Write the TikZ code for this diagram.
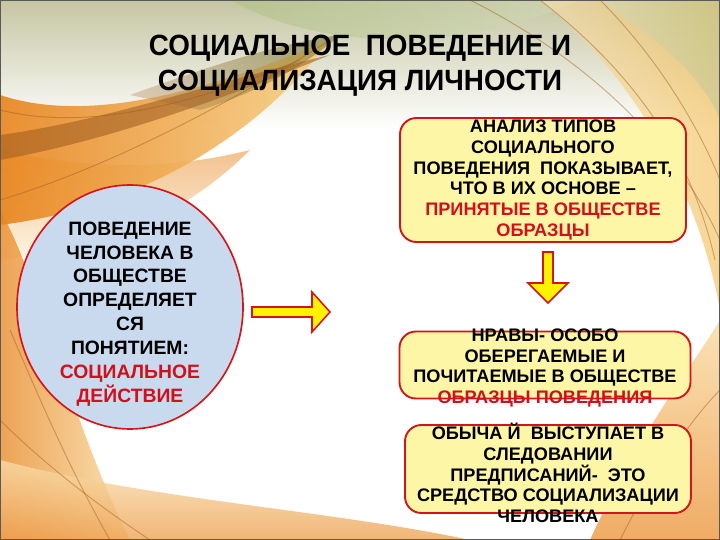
\documentclass[tikz,border=0pt]{standalone}
\usepackage{fontspec}
\setmainfont{Liberation Sans}
\newfontfamily\titlefont[FakeStretch=0.95]{Liberation Sans}
\usepackage{xcolor}
\usetikzlibrary{calc,shapes}
\definecolor{boxred}{HTML}{D41418}
\definecolor{txtred}{HTML}{D0101A}
\definecolor{boxyel}{HTML}{FDF6A6}
\definecolor{ovalblue}{HTML}{C9DAEF}
\definecolor{arrowyel}{HTML}{FFF200}
\definecolor{waveorange}{HTML}{E8841C}
\definecolor{wavegold}{HTML}{F2B43A}
\definecolor{wavebrown}{HTML}{9C5A1E}
\definecolor{wavegreen}{HTML}{8FA552}
\tikzset{
    card/.style={draw=boxred, line width=1.6pt, fill=boxyel, rounded corners=14pt, inner sep=0pt},
    cardtext/.style={align=center, font=\bfseries\fontsize{15.5}{17.6}\selectfont, inner sep=0pt},
    blockarrow/.style={draw=boxred, line width=1.3pt, fill=arrowyel, line join=miter},
    streak/.style={draw=wavebrown, line width=0.8pt, opacity=0.45}}

\begin{document}
\begin{tikzpicture}[x=0.03cm,y=-0.03cm]
\useasboundingbox (0,0) rectangle (720,540);

%background
\fill[white] (0,0) rectangle (720,540);
\shade[top color=olive!30!gray!45, bottom color=white] (0,0) rectangle (720,130);
\shade[left color=wavegreen!70, right color=wavegreen!40, opacity=0.6] (230,0) .. controls (330,55) and (470,50) .. (580,0) -- cycle;
\shade[top color=waveorange!70, bottom color=wavegold!20, opacity=0.7] (0,150) .. controls (90,170) and (170,170) .. (250,150) .. controls (170,230) and (80,250) .. (0,260) -- cycle;
\shade[left color=waveorange, right color=wavegold!60, opacity=0.9] (0,95) .. controls (90,125) and (210,90) .. (330,40) .. controls (270,120) and (160,205) .. (0,225) -- cycle;
\shade[left color=wavebrown!60, right color=olive!70!black, opacity=0.45] (130,95) .. controls (200,70) and (270,45) .. (340,35) .. controls (300,70) and (250,95) .. (200,110) -- cycle;
\fill[wavebrown, opacity=0.55] (0,135) .. controls (110,120) and (220,80) .. (330,55) .. controls (220,100) and (110,140) .. (0,160) -- cycle;
\shade[left color=waveorange, right color=wavegold!50, opacity=0.75] (0,210) .. controls (40,280) and (70,420) .. (130,540) -- (0,540) -- cycle;
\shade[top color=wavegold!40, bottom color=waveorange!80, opacity=0.75] (0,460) .. controls (150,500) and (330,510) .. (470,540) -- (0,540) -- cycle;
\shade[left color=wavegold!40, right color=wavegold!90, opacity=0.6] (540,0) .. controls (640,80) and (700,200) .. (720,310) -- (720,0) -- cycle;
\shade[left color=wavegreen!40, right color=wavegreen!60, opacity=0.5] (600,0) .. controls (660,40) and (705,80) .. (720,120) -- (720,0) -- cycle;
\shade[top color=wavegold!50, bottom color=waveorange!90, opacity=0.75] (590,540) .. controls (640,430) and (690,370) .. (720,320) -- (720,540) -- cycle;
\draw[streak] (470,0) .. controls (590,60) and (680,150) .. (720,240);
\draw[streak] (540,0) .. controls (630,70) and (690,150) .. (715,260);
\draw[streak] (600,0) .. controls (660,60) and (700,130) .. (720,180);
\draw[streak] (0,200) .. controls (100,170) and (220,110) .. (330,40);
\draw[streak] (0,110) .. controls (80,130) and (180,110) .. (300,60);
\draw[streak] (10,330) .. controls (40,400) and (70,470) .. (110,540);
\draw[streak] (0,420) .. controls (40,460) and (90,500) .. (150,540);
\draw[streak] (620,540) .. controls (660,460) and (700,410) .. (720,390);
\draw[gray!70!black, line width=1pt] (0,0) rectangle (720,540);

%title
\node[align=center, font=\titlefont\bfseries\fontsize{25}{30}\selectfont, inner sep=0pt] (title) at (360,66)
    {СОЦИАЛЬНОЕ\ \ ПОВЕДЕНИЕ И\\СОЦИАЛИЗАЦИЯ ЛИЧНОСТИ};

%oval
\node[ellipse, draw=boxred, line width=1.4pt, fill=ovalblue, inner sep=0pt,
      minimum width=6.78cm, minimum height=7.32cm] (oval) at (130,307) {};
\node[align=center, font=\bfseries\fontsize{16.5}{20.4}\selectfont, inner sep=0pt] (ovaltext) at (130,314)
    {ПОВЕДЕНИЕ\\ЧЕЛОВЕКА В\\ОБЩЕСТВЕ\\ОПРЕДЕЛЯЕТ\\СЯ\\ПОНЯТИЕМ:\\
     \textcolor{txtred}{СОЦИАЛЬНОЕ}\\\textcolor{txtred}{ДЕЙСТВИЕ}};

%boxes
\node[card, minimum width=8.58cm, minimum height=3.72cm] (analysis) at (543,180) {};
\node[cardtext] (analysistext) at (543,180)
    {АНАЛИЗ ТИПОВ\\СОЦИАЛЬНОГО\\ПОВЕДЕНИЯ\ \ ПОКАЗЫВАЕТ,\\ЧТО В ИХ ОСНОВЕ --\\
     \textcolor{txtred}{ПРИНЯТЫЕ В ОБЩЕСТВЕ}\\\textcolor{txtred}{ОБРАЗЦЫ}};
\node[card, minimum width=8.73cm, minimum height=2.01cm] (mores) at (545,365) {};
\node[cardtext] (morestext) at (545,368)
    {НРАВЫ- ОСОБО\\ОБЕРЕГАЕМЫЕ И\\ПОЧИТАЕМЫЕ В ОБЩЕСТВЕ\\\textcolor{txtred}{ОБРАЗЦЫ ПОВЕДЕНИЯ}};
\node[card, minimum width=8.58cm, minimum height=2.64cm] (custom) at (548,469) {};
\node[cardtext] (customtext) at (548,473)
    {ОБЫЧА Й\ \ ВЫСТУПАЕТ В\\СЛЕДОВАНИИ\\ПРЕДПИСАНИЙ-\ \ ЭТО\\СРЕДСТВО СОЦИАЛИЗАЦИИ\\ЧЕЛОВЕКА};

%arrows
\coordinate (ra) at (252,312);
\coordinate (da) at (548,252);
\draw[blockarrow] ($(ra)+(0,-5)$) -- ++(60,0) -- ++(0,-15) -- ($(ra)+(78,0)$) -- ($(ra)+(60,20)$) -- ++(0,-15) -- ($(ra)+(0,5)$) -- cycle;
\draw[blockarrow] ($(da)+(-5,0)$) -- ++(0,31) -- ++(-15,0) -- ($(da)+(0,51)$) -- ($(da)+(20,31)$) -- ++(-15,0) -- ($(da)+(5,0)$) -- cycle;

\end{tikzpicture}
\end{document}
